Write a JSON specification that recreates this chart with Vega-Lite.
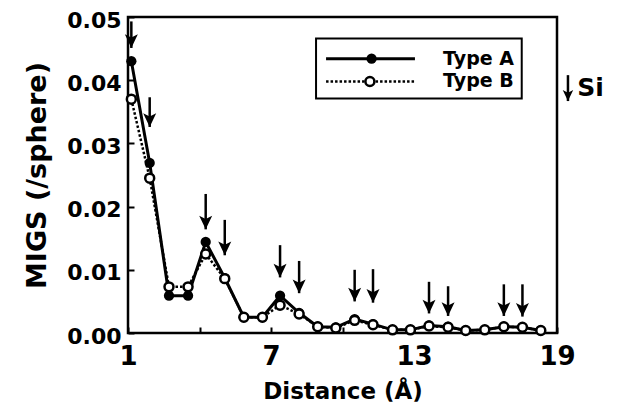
{
  "$schema": "https://vega.github.io/schema/vega-lite/v6.json",
  "width": 429,
  "height": 316,
  "autosize": "none",
  "padding": {"left": 128, "top": 17, "right": 60, "bottom": 79},
  "background": "white",
  "config": {
    "view": {"stroke": "black", "strokeWidth": 2.5},
    "font": "DejaVu Sans"
  },
  "datasets": {
    "migs": [
      {"d": 1.14, "type": "Type A", "v": 0.0430}, {"d": 1.14, "type": "Type B", "v": 0.0370},
      {"d": 1.91, "type": "Type A", "v": 0.0269}, {"d": 1.91, "type": "Type B", "v": 0.0245},
      {"d": 2.72, "type": "Type A", "v": 0.0059}, {"d": 2.72, "type": "Type B", "v": 0.0073},
      {"d": 3.52, "type": "Type A", "v": 0.0059}, {"d": 3.52, "type": "Type B", "v": 0.0073},
      {"d": 4.26, "type": "Type A", "v": 0.0144}, {"d": 4.26, "type": "Type B", "v": 0.0125},
      {"d": 5.06, "type": "Type A", "v": 0.0087}, {"d": 5.06, "type": "Type B", "v": 0.0086},
      {"d": 5.86, "type": "Type A", "v": 0.0025}, {"d": 5.86, "type": "Type B", "v": 0.0025},
      {"d": 6.64, "type": "Type A", "v": 0.0025}, {"d": 6.64, "type": "Type B", "v": 0.0025},
      {"d": 7.38, "type": "Type A", "v": 0.0059}, {"d": 7.38, "type": "Type B", "v": 0.0044},
      {"d": 8.18, "type": "Type A", "v": 0.0032}, {"d": 8.18, "type": "Type B", "v": 0.0030},
      {"d": 8.96, "type": "Type A", "v": 0.0010}, {"d": 8.96, "type": "Type B", "v": 0.0010},
      {"d": 9.72, "type": "Type A", "v": 0.0009}, {"d": 9.72, "type": "Type B", "v": 0.0008},
      {"d": 10.51, "type": "Type A", "v": 0.0022}, {"d": 10.51, "type": "Type B", "v": 0.0020},
      {"d": 11.28, "type": "Type A", "v": 0.0014}, {"d": 11.28, "type": "Type B", "v": 0.0013},
      {"d": 12.10, "type": "Type A", "v": 0.0005}, {"d": 12.10, "type": "Type B", "v": 0.0005},
      {"d": 12.85, "type": "Type A", "v": 0.0005}, {"d": 12.85, "type": "Type B", "v": 0.0005},
      {"d": 13.63, "type": "Type A", "v": 0.0012}, {"d": 13.63, "type": "Type B", "v": 0.0011},
      {"d": 14.43, "type": "Type A", "v": 0.0010}, {"d": 14.43, "type": "Type B", "v": 0.0009},
      {"d": 15.17, "type": "Type A", "v": 0.0004}, {"d": 15.17, "type": "Type B", "v": 0.0004},
      {"d": 15.97, "type": "Type A", "v": 0.0005}, {"d": 15.97, "type": "Type B", "v": 0.0005},
      {"d": 16.77, "type": "Type A", "v": 0.0010}, {"d": 16.77, "type": "Type B", "v": 0.0010},
      {"d": 17.55, "type": "Type A", "v": 0.0009}, {"d": 17.55, "type": "Type B", "v": 0.0009},
      {"d": 18.32, "type": "Type A", "v": 0.0004}, {"d": 18.32, "type": "Type B", "v": 0.0004}
    ],
    "si": [
      {"d": 1.14, "top": 0.0493, "tip": 0.0451},
      {"d": 1.91, "top": 0.0373, "tip": 0.0326},
      {"d": 4.26, "top": 0.0220, "tip": 0.0164},
      {"d": 5.06, "top": 0.0179, "tip": 0.0123},
      {"d": 7.38, "top": 0.0139, "tip": 0.0088},
      {"d": 8.18, "top": 0.0114, "tip": 0.0063},
      {"d": 10.51, "top": 0.0100, "tip": 0.0050},
      {"d": 11.28, "top": 0.0101, "tip": 0.0048},
      {"d": 13.63, "top": 0.0081, "tip": 0.0031},
      {"d": 14.43, "top": 0.0074, "tip": 0.0027},
      {"d": 16.77, "top": 0.0077, "tip": 0.0027},
      {"d": 17.55, "top": 0.0077, "tip": 0.0026}
    ]
  },
  "layer": [
    {
      "data": {"name": "migs"},
      "transform": [{"filter": "datum.type == 'Type B'"}],
      "mark": {"type": "line", "color": "black", "strokeWidth": 2.5, "strokeDash": [2.5, 2]},
      "encoding": {
        "x": {"field": "d", "type": "quantitative", "scale": {"domain": [1, 19], "nice": false, "zero": false},
          "axis": {"title": "Distance (Å)", "values": [1, 4, 7, 10, 13, 16, 19],
            "labelExpr": "datum.value % 6 == 1 ? datum.label : ''",
            "tickSize": -6, "tickWidth": 2, "tickColor": "black", "domain": false, "grid": false,
            "labelFont": "DejaVu Sans", "labelFontWeight": "bold", "labelFontSize": 26, "labelColor": "black",
            "labelPadding": 16, "labelFlush": false,
            "titleFont": "DejaVu Sans", "titleFontWeight": "bold", "titleFontSize": 23, "titleColor": "black", "titlePadding": 11}},
        "y": {"field": "v", "type": "quantitative", "scale": {"domain": [0, 0.05], "nice": false, "zero": true},
          "axis": {"title": "MIGS  (/sphere)", "values": [0, 0.005, 0.01, 0.015, 0.02, 0.025, 0.03, 0.035, 0.04, 0.045, 0.05],
            "labelExpr": "round(datum.value * 1000) % 10 == 0 ? format(datum.value, '.2f') : ''",
            "tickSize": -6, "tickWidth": 2, "tickColor": "black", "domain": false, "grid": false,
            "labelFont": "DejaVu Sans", "labelFontWeight": "bold", "labelFontSize": 22, "labelColor": "black",
            "labelPadding": 13, "labelFlush": false, "labelOffset": 3,
            "titleFont": "DejaVu Sans", "titleFontWeight": "bold", "titleFontSize": 27, "titleColor": "black", "titlePadding": 15}}
      }
    },
    {
      "data": {"name": "migs"},
      "transform": [{"filter": "datum.type == 'Type A'"}],
      "mark": {"type": "line", "color": "black", "strokeWidth": 3},
      "encoding": {
        "x": {"field": "d", "type": "quantitative"},
        "y": {"field": "v", "type": "quantitative"}
      }
    },
    {
      "data": {"name": "migs"},
      "transform": [{"filter": "datum.type == 'Type A'"}],
      "mark": {"type": "point", "shape": "circle", "filled": true, "color": "black", "size": 105, "opacity": 1},
      "encoding": {
        "x": {"field": "d", "type": "quantitative"},
        "y": {"field": "v", "type": "quantitative"}
      }
    },
    {
      "data": {"name": "migs"},
      "transform": [{"filter": "datum.type == 'Type B'"}],
      "mark": {"type": "point", "shape": "circle", "filled": false, "fill": "white", "stroke": "black", "strokeWidth": 2.5, "size": 80, "opacity": 1, "fillOpacity": 1},
      "encoding": {
        "x": {"field": "d", "type": "quantitative"},
        "y": {"field": "v", "type": "quantitative"}
      }
    },
    {
      "data": {"name": "si"},
      "mark": {"type": "rule", "color": "black", "strokeWidth": 2.5},
      "encoding": {
        "x": {"field": "d", "type": "quantitative"},
        "y": {"field": "top", "type": "quantitative"},
        "y2": {"field": "tip"}
      }
    },
    {
      "data": {"name": "si"},
      "mark": {"type": "point", "shape": "M0,0L-1,-2.1L0,-1.6L1,-2.1Z", "filled": true, "color": "black", "size": 169, "opacity": 1},
      "encoding": {
        "x": {"field": "d", "type": "quantitative"},
        "y": {"field": "tip", "type": "quantitative"}
      }
    },
    {
      "data": {"values": [{}]},
      "layer": [
        {
          "mark": {"type": "rect", "fill": "white", "stroke": "black", "strokeWidth": 2},
          "encoding": {
            "x": {"datum": 8.89, "type": "quantitative"},
            "x2": {"datum": 17.52},
            "y": {"datum": 0.0466, "type": "quantitative"},
            "y2": {"datum": 0.0371}
          }
        },
        {
          "mark": {"type": "rule", "color": "black", "strokeWidth": 3},
          "encoding": {
            "x": {"datum": 9.31, "type": "quantitative"},
            "x2": {"datum": 13.04},
            "y": {"datum": 0.0434, "type": "quantitative"}
          }
        },
        {
          "mark": {"type": "rule", "color": "black", "strokeWidth": 2.5, "strokeDash": [2.5, 2]},
          "encoding": {
            "x": {"datum": 9.31, "type": "quantitative"},
            "x2": {"datum": 13.04},
            "y": {"datum": 0.0398, "type": "quantitative"}
          }
        },
        {
          "mark": {"type": "point", "shape": "circle", "filled": true, "color": "black", "size": 105, "opacity": 1},
          "encoding": {
            "x": {"datum": 11.22, "type": "quantitative"},
            "y": {"datum": 0.0434, "type": "quantitative"}
          }
        },
        {
          "mark": {"type": "point", "shape": "circle", "filled": false, "fill": "white", "stroke": "black", "strokeWidth": 2.5, "size": 80, "opacity": 1, "fillOpacity": 1},
          "encoding": {
            "x": {"datum": 11.15, "type": "quantitative"},
            "y": {"datum": 0.0398, "type": "quantitative"}
          }
        },
        {
          "mark": {"type": "text", "text": "Type A", "align": "left", "baseline": "middle", "font": "DejaVu Sans", "fontWeight": "bold", "fontSize": 19, "color": "black"},
          "encoding": {
            "x": {"datum": 14.22, "type": "quantitative"},
            "y": {"datum": 0.0434, "type": "quantitative"}
          }
        },
        {
          "mark": {"type": "text", "text": "Type B", "align": "left", "baseline": "middle", "font": "DejaVu Sans", "fontWeight": "bold", "fontSize": 19, "color": "black"},
          "encoding": {
            "x": {"datum": 14.22, "type": "quantitative"},
            "y": {"datum": 0.0398, "type": "quantitative"}
          }
        },
        {
          "mark": {"type": "rule", "color": "black", "strokeWidth": 2.5},
          "encoding": {
            "x": {"datum": 19.46, "type": "quantitative"},
            "y": {"datum": 0.0408, "type": "quantitative"},
            "y2": {"datum": 0.0367}
          }
        },
        {
          "mark": {"type": "point", "shape": "M0,0L-1,-2.1L0,-1.6L1,-2.1Z", "filled": true, "color": "black", "size": 110, "opacity": 1},
          "encoding": {
            "x": {"datum": 19.46, "type": "quantitative"},
            "y": {"datum": 0.0367, "type": "quantitative"}
          }
        },
        {
          "mark": {"type": "text", "text": "Si", "align": "left", "baseline": "middle", "font": "DejaVu Sans", "fontWeight": "bold", "fontSize": 25, "color": "black"},
          "encoding": {
            "x": {"datum": 19.85, "type": "quantitative"},
            "y": {"datum": 0.0387, "type": "quantitative"}
          }
        }
      ]
    }
  ]
}
